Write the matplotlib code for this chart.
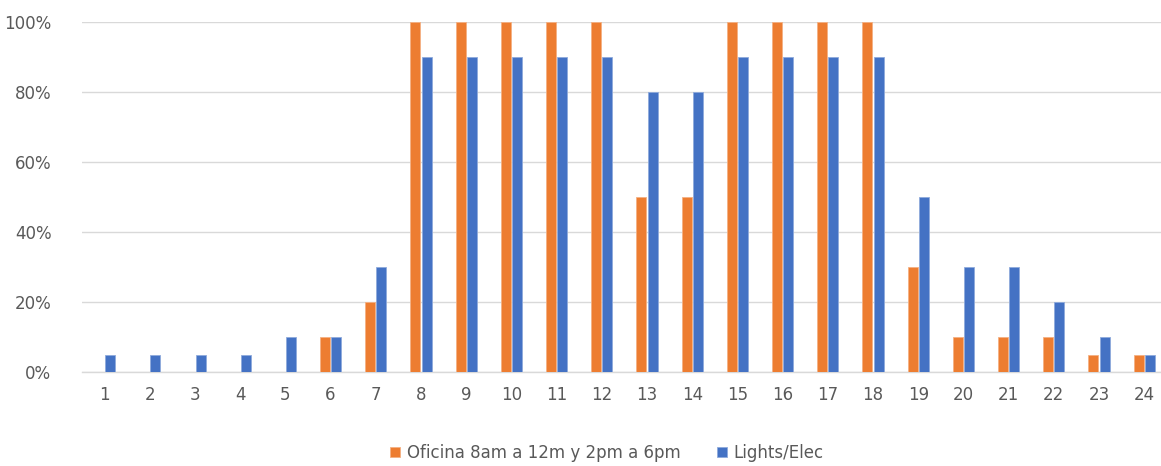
import numpy as np
import matplotlib.pyplot as plt
import matplotlib.ticker as ticker

hours = list(range(1, 25))
oficina = [0, 0, 0, 0, 0, 10, 20, 100, 100, 100, 100, 100,
           50, 50, 100, 100, 100, 100, 30, 10, 10, 10, 5, 5]
lights = [5, 5, 5, 5, 10, 10, 30, 90, 90, 90, 90, 90,
          80, 80, 90, 90, 90, 90, 50, 30, 30, 20, 10, 5]

COLOR_OF = "#ED7D31"
COLOR_LE = "#4472C4"
TXT = "#595959"

fig = plt.figure(figsize=(11.61, 4.66), dpi=100)
ax = fig.add_axes([82 / 1161, 1 - 372 / 466, 1 - 82 / 1161, (372 - 22) / 466])

x = np.array(hours)
w = 0.22
off = 0.123
ax.bar(x - off, oficina, width=w, color=COLOR_OF, edgecolor="#F4B183", linewidth=0.6,
       label="Oficina 8am a 12m y 2pm a 6pm", zorder=3)
ax.bar(x + off, lights, width=w, color=COLOR_LE, edgecolor="#8FAADC", linewidth=0.6,
       label="Lights/Elec", zorder=3)

ax.set_xlim(0.5, 0.5 + (1161 - 82) / 45.2)
ax.set_ylim(0, 100)
ax.set_yticks(range(0, 101, 20))
ax.yaxis.set_major_formatter(ticker.FuncFormatter(lambda v, p: f"{int(v)}%"))
ax.set_xticks(x)
ax.set_xticklabels([str(h) for h in hours])
ax.grid(axis="y", color="#D9D9D9", linewidth=1, zorder=0)
ax.tick_params(length=0, labelsize=12, labelcolor=TXT)
ax.tick_params(axis="x", pad=10)
ax.tick_params(axis="y", pad=22)
for s in ["top", "right", "left"]:
    ax.spines[s].set_visible(False)
ax.spines["bottom"].set_color("#D9D9D9")
ax.spines["bottom"].set_linewidth(1)

leg = fig.legend(loc="center", bbox_to_anchor=(607 / 1161, 1 - 453 / 466), ncol=2,
                 frameon=False, fontsize=12, handlelength=0.6, handleheight=0.6,
                 handletextpad=0.4, columnspacing=2.2)
for t in leg.get_texts():
    t.set_color(TXT)

fig.savefig("out.png", dpi=100)
